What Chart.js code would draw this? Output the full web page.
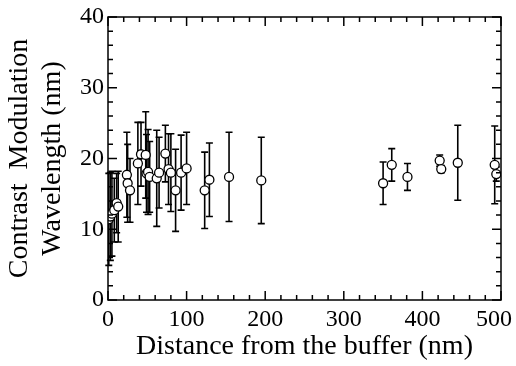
<!DOCTYPE html>
<html>
<head>
<meta charset="utf-8">
<script src="https://cdn.jsdelivr.net/npm/chart.js@4/dist/chart.umd.min.js"></script>
<style>
  body { margin: 0; background: #fff; }
  #wrap { width: 516px; height: 366px; }
</style>
</head>
<body>
<div id="wrap"><canvas id="chart"></canvas></div>
<script>
// distance from the buffer (nm), wavelength (nm), error (nm)
const distance = [1, 3, 5, 8, 11, 13, 24, 25, 28, 38, 42, 48, 49, 51, 53, 62, 65, 73, 77, 80, 86, 93, 100, 123, 129, 154, 195, 350, 361, 381, 422, 424, 445, 492, 494];
const wavelength = [11.4, 11.8, 12.2, 12.7, 13.7, 13.2, 17.7, 16.5, 15.5, 19.3, 20.6, 20.5, 17.9, 18.1, 17.4, 17.2, 18.0, 20.7, 18.5, 18.0, 15.5, 18.0, 18.6, 15.5, 17.0, 17.4, 16.9, 16.5, 19.1, 17.4, 19.7, 18.5, 19.4, 19.1, 17.8];
const errors = [6.5, 6.2, 6.0, 4.5, 4.2, 5.0, 6.0, 5.5, 4.5, 5.8, 4.5, 6.1, 5.5, 6.0, 5.0, 6.8, 5.0, 4.0, 5.0, 5.5, 5.8, 5.3, 5.1, 5.4, 5.2, 6.3, 6.1, 3.0, 2.3, 1.9, 0.8, 0.5, 5.3, 5.5, 1.0];

const xTicks = [0, 100, 200, 300, 400, 500];
const yTicks = [0, 10, 20, 30, 40];

const family = "'Liberation Serif', 'Times New Roman', serif";
const tickFont = { family, size: 24 };
const titleFont = { family, size: 28, lineHeight: 1.15 };

// error bars under the circles
const errorBars = {
  id: 'errorBars',
  beforeDatasetsDraw(chart) {
    const { ctx, scales: { x, y } } = chart;
    ctx.save();
    ctx.strokeStyle = '#000';
    ctx.lineWidth = 1.6;
    distance.forEach((d, i) => {
      const px = x.getPixelForValue(d);
      const top = y.getPixelForValue(wavelength[i] + errors[i]);
      const bot = y.getPixelForValue(wavelength[i] - errors[i]);
      ctx.beginPath();
      ctx.moveTo(px, top); ctx.lineTo(px, bot);
      ctx.moveTo(px - 3.5, top); ctx.lineTo(px + 3.5, top);
      ctx.moveTo(px - 3.5, bot); ctx.lineTo(px + 3.5, bot);
      ctx.stroke();
    });
    ctx.restore();
  }
};

// box frame with inward ticks on all four sides, x labels kept inside the canvas
const frame = {
  id: 'frame',
  afterDraw(chart) {
    const { ctx, chartArea: a, scales: { x, y } } = chart;
    ctx.save();
    ctx.strokeStyle = '#000';
    ctx.lineWidth = 1.5;
    ctx.strokeRect(a.left, a.top, a.right - a.left, a.bottom - a.top);
    ctx.beginPath();
    for (let v = 0; v <= 500; v += 20) {
      const px = x.getPixelForValue(v);
      const len = v % 100 === 0 ? 9 : 5;
      ctx.moveTo(px, a.bottom); ctx.lineTo(px, a.bottom - len);
      ctx.moveTo(px, a.top); ctx.lineTo(px, a.top + len);
    }
    for (let v = 0; v <= 40; v += 2) {
      const py = y.getPixelForValue(v);
      const len = v % 10 === 0 ? 9 : 5;
      ctx.moveTo(a.left, py); ctx.lineTo(a.left + len, py);
      ctx.moveTo(a.right, py); ctx.lineTo(a.right - len, py);
    }
    ctx.stroke();

    ctx.fillStyle = '#000';
    ctx.font = `${tickFont.size}px ${family}`;
    ctx.textAlign = 'center';
    ctx.textBaseline = 'middle';
    xTicks.forEach(v => {
      const label = String(v);
      const w = ctx.measureText(label).width;
      const px = Math.min(x.getPixelForValue(v), chart.width - 4 - w / 2);
      ctx.fillText(label, px, a.bottom + 20);
    });
    ctx.restore();
  }
};

new Chart(document.getElementById('chart'), {
  type: 'scatter',
  data: {
    datasets: [{
      data: distance.map((d, i) => ({ x: d, y: wavelength[i] })),
      pointStyle: 'circle',
      pointRadius: 4.5,
      borderWidth: 1.3,
      borderColor: '#000',
      backgroundColor: '#fff',
    }],
  },
  options: {
    responsive: true,
    maintainAspectRatio: false,
    animation: false,
    layout: { padding: { top: 17, right: 15, left: 0, bottom: 0 } },
    plugins: { legend: { display: false }, tooltip: { enabled: false } },
    scales: {
      x: {
        type: 'linear', min: 0, max: 500,
        afterBuildTicks: (s) => { s.ticks = xTicks.map(v => ({ value: v })); },
        ticks: { display: false },
        grid: { display: false, drawTicks: false },
        border: { display: false },
        title: { display: true, text: 'Distance from the buffer (nm)', font: titleFont, color: '#000', padding: { top: 0, bottom: 3 } },
        afterFit: (s) => { s.height = 66; s.paddingLeft = 0; s.paddingRight = 0; },
      },
      y: {
        type: 'linear', min: 0, max: 40,
        afterBuildTicks: (s) => { s.ticks = yTicks.map(v => ({ value: v })); },
        ticks: { font: tickFont, color: '#000', padding: 4 },
        grid: { display: false, drawTicks: false },
        border: { display: false },
        title: { display: true, text: ['Contrast  Modulation', 'Wavelength (nm)'], font: titleFont, color: '#000', padding: { top: 4, bottom: 0 } },
        afterFit: (s) => { s.width = 108; s.paddingTop = 0; s.paddingBottom = 0; },
      },
    },
  },
  plugins: [errorBars, frame],
});
</script>
</body>
</html>
